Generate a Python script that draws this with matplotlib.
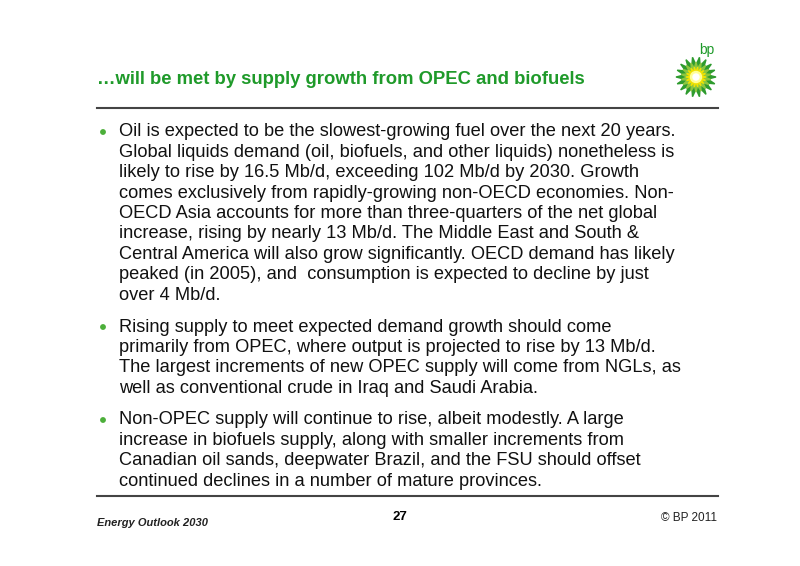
import matplotlib
matplotlib.use("Agg")
import matplotlib.pyplot as plt
import numpy as np
from matplotlib.patches import Polygon, Circle

W, H = 800, 566
title = "…will be met by supply growth from OPEC and biofuels"
bullets = [
    ["Oil is expected to be the slowest-growing fuel over the next 20 years.",
     "Global liquids demand (oil, biofuels, and other liquids) nonetheless is",
     "likely to rise by 16.5 Mb/d, exceeding 102 Mb/d by 2030. Growth",
     "comes exclusively from rapidly-growing non-OECD economies. Non-",
     "OECD Asia accounts for more than three-quarters of the net global",
     "increase, rising by nearly 13 Mb/d. The Middle East and South &",
     "Central America will also grow significantly. OECD demand has likely",
     "peaked (in 2005), and  consumption is expected to decline by just",
     "over 4 Mb/d."],
    ["Rising supply to meet expected demand growth should come",
     "primarily from OPEC, where output is projected to rise by 13 Mb/d.",
     "The largest increments of new OPEC supply will come from NGLs, as",
     "well as conventional crude in Iraq and Saudi Arabia."],
    ["Non-OPEC supply will continue to rise, albeit modestly. A large",
     "increase in biofuels supply, along with smaller increments from",
     "Canadian oil sands, deepwater Brazil, and the FSU should offset",
     "continued declines in a number of mature provinces."],
]
bullet_tops = [132, 327, 420]
footer_left = "Energy Outlook 2030"
page = "27"
footer_right = "© BP 2011"

fig = plt.figure(figsize=(W/100, H/100), dpi=100)
ax = fig.add_axes([0, 0, 1, 1])
ax.set_xlim(0, W); ax.set_ylim(H, 0); ax.axis("off")
green = "#1f9a2a"
fam = ["Liberation Sans", "DejaVu Sans"]

ax.text(97, 79, title, color=green, fontsize=13.3, fontweight="bold", family=fam, va="center")
ax.plot([97, 718], [108, 108], color="#444444", lw=1.5)
ax.plot([97, 718], [496, 496], color="#444444", lw=1.5)

sp = 20.4
for top, lines in zip(bullet_tops, bullets):
    ax.add_patch(Circle((103, top), 2.2, color="#4caf3a"))
    for i, ln in enumerate(lines):
        ax.text(119, top + i*sp, ln, fontsize=13.15, family=fam, va="center", color="#111111")

ax.text(97, 523, footer_left, fontsize=8, style="italic", fontweight="bold", family=fam, va="center", color="#222222")
ax.text(400, 517, page, fontsize=9.5, fontweight="bold", family=fam, va="center", ha="center")
ax.text(717, 518, footer_right, fontsize=8.5, family=fam, va="center", ha="right", color="#222222")

# bp helios logo
cx, cy = 696, 77
n = 18
for r_out, r_in, col, off in [(20, 12, "#2e9b2e", 0), (15, 9, "#8cc63f", np.pi/n), (10, 5, "#f2e200", 0)]:
    pts = []
    for k in range(2*n):
        a = k*np.pi/n + off
        r = r_out if k % 2 == 0 else r_in
        pts.append((cx + r*np.cos(a), cy + r*np.sin(a)))
    ax.add_patch(Polygon(pts, closed=True, color=col))
ax.add_patch(Circle((cx, cy), 5.5, color="#ffff99"))
ax.add_patch(Circle((cx, cy), 3, color="white"))
ax.text(707, 50, "bp", color=green, fontsize=10, family=fam, va="center", ha="center")

fig.savefig("out.png", dpi=100)
